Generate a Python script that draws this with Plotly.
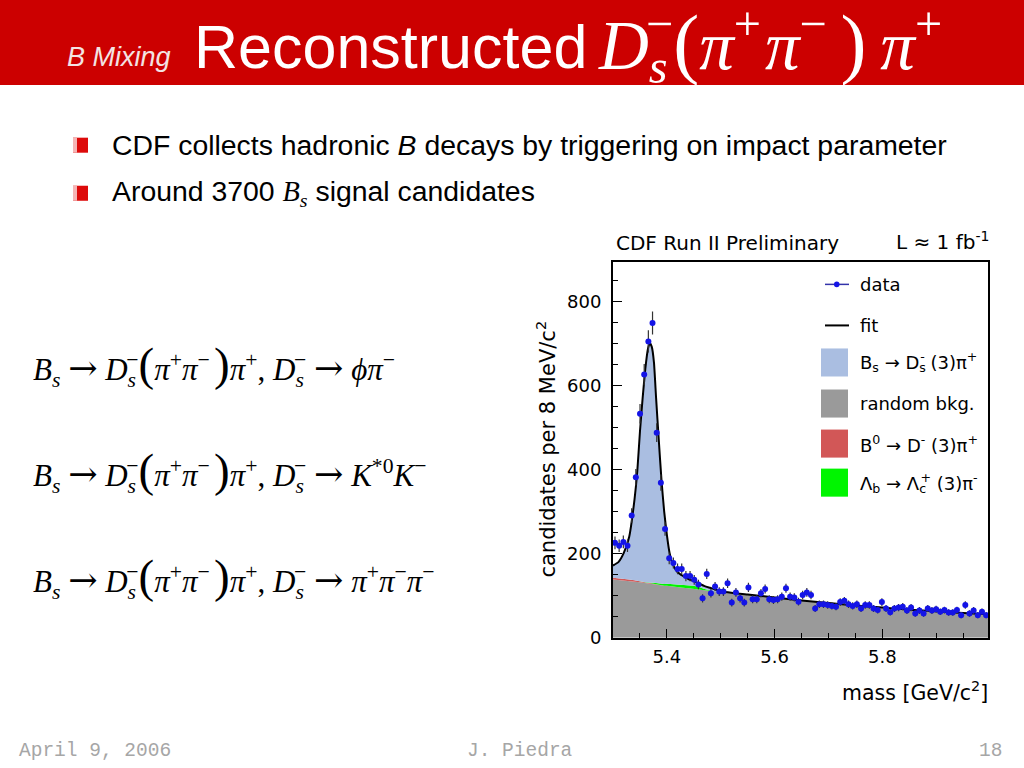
import numpy as np
import plotly.graph_objects as go

# ---------------- data ----------------
bin_first = 5.3037          # GeV/c^2, first bin centre
bin_step = 0.00774          # spacing of the plotted points
counts = [226, 219, 228, 219, 291, 382, 533, 626, 705, 749, 488, 369, 259,
          189, 178, 164, 164, 147, 147, 138, 127, 94, 152, 106, 122, 110, 110,
          130, 84, 108, 94, 84, 120, 92, 92, 106, 116, 92, 90, 92, 98, 118, 98,
          96, 86, 102, 108, 102, 70, 80, 80, 78, 76, 74, 85, 88, 80, 76, 80, 70,
          78, 78, 70, 66, 85, 70, 61, 70, 72, 74, 65, 72, 58, 65, 58, 70, 65, 68,
          62, 66, 60, 60, 66, 54, 78, 58, 65, 54, 62, 54]
mass = [round(bin_first + i * bin_step, 5) for i in range(len(counts))]

# fit components
model_mass = [5.300, 5.310, 5.320, 5.330, 5.340, 5.345, 5.350, 5.355, 5.360,
              5.365, 5.368, 5.372, 5.376, 5.380, 5.385, 5.390, 5.395, 5.400,
              5.405, 5.410, 5.415, 5.420, 5.430, 5.440, 5.450, 5.460, 5.470,
              5.480, 5.490, 5.500, 5.550, 5.600, 5.650, 5.700, 5.750, 5.800,
              5.850, 5.900, 5.950, 5.996]
fit_total = [172, 180, 202, 240, 330, 395, 490, 570, 640, 688, 701, 692, 655,
             570, 470, 375, 300, 245, 202, 178, 165, 156, 147, 140, 135, 129,
             123, 119, 115, 111, 103, 96, 89, 83, 77, 72, 67, 63, 59, 56]
random_bkg = [139, 138, 137, 136, 134, 133, 132, 131, 130, 129, 129, 128, 128,
              127, 126, 125, 124, 124, 123, 122, 121, 121, 119, 118, 116, 115,
              113, 112, 110, 110, 103, 96, 89, 83, 77, 72, 67, 63, 59, 56]
b0_comp = [4, 4, 3.5, 3, 3, 2.5, 2.5, 2, 2, 1.5, 1.5, 1, 1, 0.5, 0.5, 0, 0, 0,
           0, 0, 0, 0, 0, 0, 0, 0, 0, 0, 0, 0, 0, 0, 0, 0, 0, 0, 0, 0, 0, 0]
lb_comp = [0, 0, 0, 0, 0, 0, 0, 0, 0.5, 1, 1.5, 2, 2, 2.5, 3, 3.5, 4, 4.5, 5,
           5.5, 6, 6.5, 7.5, 8, 8, 6, 3, 1, 0, 0, 0, 0, 0, 0, 0, 0, 0, 0, 0, 0]

x_ticks = [5.4, 5.6, 5.8]
y_ticks = [0, 200, 400, 600, 800]

# ---------------- colours ----------------
C_SIG = "#AABEE1"
C_BKG = "#9A9A9A"
C_B0 = "#D25757"
C_LB = "#00F500"
C_DATA = "#1414E6"
RED = "#CC0000"

W, H = 1024, 768
H_EFF = 757        # vertical extent the page actually ends up drawn at
def X(px): return px / W
def Y(py): return 1 - py / H_EFF

SANS = "Liberation Sans"
SERIF = "Liberation Serif"
CHART = "DejaVu Sans"

bkg = np.array(random_bkg, float)
lay1 = bkg + np.array(b0_comp, float)
lay2 = lay1 + np.array(lb_comp, float)
tot = np.maximum(np.array(fit_total, float), lay2)

fig = go.Figure()
fig.add_trace(go.Scatter(x=model_mass, y=bkg, mode="lines", line=dict(width=0, color=C_BKG),
                         fill="tozeroy", fillcolor=C_BKG, hoverinfo="skip"))
fig.add_trace(go.Scatter(x=model_mass, y=lay1, mode="lines", line=dict(width=0, color=C_B0),
                         fill="tonexty", fillcolor=C_B0, hoverinfo="skip"))
fig.add_trace(go.Scatter(x=model_mass, y=lay2, mode="lines", line=dict(width=0, color=C_LB),
                         fill="tonexty", fillcolor=C_LB, hoverinfo="skip"))
fig.add_trace(go.Scatter(x=model_mass, y=tot, mode="lines", line=dict(width=0, color=C_SIG),
                         fill="tonexty", fillcolor=C_SIG, hoverinfo="skip"))
fig.add_trace(go.Scatter(x=model_mass, y=tot, mode="lines",
                         line=dict(width=2, color="black", shape="spline", smoothing=0.5)))
fig.add_trace(go.Scatter(x=mass, y=counts, mode="markers",
                         marker=dict(size=6, color=C_DATA),
                         error_y=dict(type="data", array=np.sqrt(counts), visible=True,
                                      color="#333333", thickness=1.2, width=0)))

axis_common = dict(showline=True, linecolor="black", linewidth=2, mirror=True,
                   showgrid=False, zeroline=False, ticks="inside", ticklen=9,
                   tickwidth=1.2, tickcolor="black",
                   tickfont=dict(family=CHART, size=18, color="black"))
fig.update_layout(
    width=W, height=H, autosize=False, margin=dict(l=0, r=0, t=0, b=0),
    paper_bgcolor="white", plot_bgcolor="white", showlegend=False,
    xaxis=dict(domain=[X(613), X(988)], range=[5.30, 5.996], tickvals=x_ticks,
               ticktext=[f"{v:.1f}" for v in x_ticks], ticklabelstandoff=2,
               minor=dict(dtick=0.05, tick0=5.3, ticks="inside", ticklen=5,
                          tickcolor="black", tickwidth=1),
               **axis_common),
    yaxis=dict(domain=[Y(637), Y(262)], range=[0, 893], tickvals=y_ticks,
               ticktext=[str(v) for v in y_ticks], ticklabelstandoff=6,
               minor=dict(dtick=50, tick0=0, ticks="inside", ticklen=5,
                          tickcolor="black", tickwidth=1),
               **axis_common),
)

shapes = []
# header bar
shapes.append(dict(type="rect", xref="paper", yref="paper", x0=0, x1=1, y0=Y(85), y1=1,
                   fillcolor=RED, line=dict(width=0), layer="below"))
# bullets
for cy in (145, 193):
    shapes.append(dict(type="rect", xref="paper", yref="paper", x0=X(73), x1=X(88),
                       y0=Y(cy + 7.5), y1=Y(cy - 7.5), fillcolor="#DD0A0A", line=dict(width=0)))
    shapes.append(dict(type="rect", xref="paper", yref="paper", x0=X(73), x1=X(77),
                       y0=Y(cy + 7.5), y1=Y(cy - 7.5), fillcolor="#F5B5B5", line=dict(width=0)))

# legend (drawn)
leg_items = [
    ("line_dot", 284, "data"),
    ("line", 325, "fit"),
    (C_SIG, 362, "B<sub>s</sub> → D<sub><span style='letter-spacing:-0.45em'>s</span></sub><sup>-</sup> (3)π<sup>+</sup>"),
    (C_BKG, 403, "random bkg."),
    (C_B0, 443, "B<sup>0</sup> → D<sup>-</sup> (3)π<sup>+</sup>"),
    (C_LB, 482, "Λ<sub>b</sub> → Λ<sub><span style='letter-spacing:-0.45em'>c</span></sub><sup>+</sup> (3)π<sup>-</sup>"),
]
annotations = []
for kind, cy, label in leg_items:
    if kind == "line_dot":
        shapes.append(dict(type="line", xref="paper", yref="paper", x0=X(825), x1=X(849),
                           y0=Y(cy), y1=Y(cy), line=dict(color="#3333AA", width=1.5)))
        shapes.append(dict(type="circle", xref="paper", yref="paper", x0=X(834), x1=X(839.5),
                           y0=Y(cy + 2.75), y1=Y(cy - 2.75), fillcolor=C_DATA,
                           line=dict(width=0)))
    elif kind == "line":
        shapes.append(dict(type="line", xref="paper", yref="paper", x0=X(825), x1=X(849),
                           y0=Y(cy), y1=Y(cy), line=dict(color="black", width=2)))
    else:
        shapes.append(dict(type="rect", xref="paper", yref="paper", x0=X(821), x1=X(848),
                           y0=Y(cy + 14), y1=Y(cy - 14), fillcolor=kind, line=dict(width=0)))
    annotations.append(dict(text=label, x=X(858), y=Y(cy), xanchor="left", yanchor="middle",
                            font=dict(family=CHART, size=18, color="black")))

def ann(text, x, y, size, family=SANS, color="black", xanchor="left", angle=0):
    annotations.append(dict(text=text, x=X(x), y=Y(y), xanchor=xanchor, yanchor="middle",
                            textangle=angle, font=dict(family=family, size=size, color=color)))

ARROW = "<span style='font-family:DejaVu Serif;font-size:35px'>→</span>"
HAIR, THIN = "\u200a", "\u2009"

# header texts
ann("<i>B Mixing</i>", 65, 57, 27, color="#F3E3E3")
ann("Reconstructed", 192, 47, 61, color="white")
P = "<span style='font-size:78px'>%s</span>"
ann("<i>D</i><sub><span style='letter-spacing:-0.45em'><i>s</i></span></sub><sup>−</sup>"
    + (P % "(") + "<i>π</i><sup>+" + HAIR + "</sup><i>π</i><sup>−" + THIN + HAIR + "</sup>"
    + (P % ")") + THIN + "<i>π</i><sup>+</sup>", 596, 41, 69, family=SERIF, color="white")

# bullets
ann("CDF collects hadronic <i>B</i> decays by triggering on impact parameter", 110, 145, 28.4)
ann("Around 3700 <span style='font-family:Liberation Serif'><i>B</i><sub><i>s</i></sub></span> signal candidates",
    110, 193, 28.4)

# decay equations
Q = "<span style='font-size:47px'>%s</span>"
Ds = "<i>D</i><sub><span style='letter-spacing:-0.45em'><i>s</i></span></sub><sup>−</sup>"
base = ("<i>B</i><sub><i>s</i></sub> " + ARROW + " " + Ds + (Q % "(")
        + "<i>π</i><sup>+</sup><i>π</i><sup>−" + THIN + "</sup>"
        + (Q % ")") + "<i>π</i><sup>+</sup>, " + Ds + " " + ARROW + " ")
ann(base + "<i>ϕπ</i><sup>−</sup>", 31, 365, 31, family=SERIF)
ann(base + "<i>K</i><sup>*0</sup><i>K</i><sup>−</sup>", 31, 470, 31, family=SERIF)
ann(base + "<i>π</i><sup>+</sup><i>π</i><sup>−</sup><i>π</i><sup>−</sup>", 31, 576, 31, family=SERIF)

# chart texts
ann("CDF Run II Preliminary", 614, 243, 20, family=CHART)
ann("L ≈ 1 fb<sup>-1</sup>", 991, 241, 20, family=CHART, xanchor="right")
ann("mass [GeV/c<sup>2</sup>]", 990, 691, 20.5, family=CHART, xanchor="right")
annotations.append(dict(text="candidates per 8 MeV/c<sup>2</sup>", x=X(546), y=Y(449),
                        xanchor="center", yanchor="middle", textangle=-90,
                        font=dict(family=CHART, size=21, color="black")))

# footer
ann("April 9, 2006", 17, 750, 19.5, family="Liberation Mono", color="#A6A6A6")
ann("J. Piedra", 520, 750, 19.5, family="Liberation Mono", color="#A6A6A6", xanchor="center")
ann("18", 1004, 750, 19.5, family="Liberation Mono", color="#A6A6A6", xanchor="right")

for a in annotations:
    a.setdefault("showarrow", False)
    a.setdefault("xref", "paper")
    a.setdefault("yref", "paper")

fig.update_layout(shapes=shapes, annotations=annotations)

page_fix = (
    "var de=document.documentElement, b=document.body;"
    "de.style.margin='0';de.style.padding='0';de.style.overflow='hidden';"
    "b.style.margin='0';b.style.padding='0';b.style.overflow='hidden';"
    "var d=document.getElementById('{plot_id}');"
    "if(d&&d.parentElement){var p=d.parentElement;p.style.position='fixed';"
    "p.style.left='0px';p.style.top='0px';p.style.margin='0';}"
)
fig.write_html("out.html",
               config={"responsive": False, "displayModeBar": False},
               post_script=page_fix)
